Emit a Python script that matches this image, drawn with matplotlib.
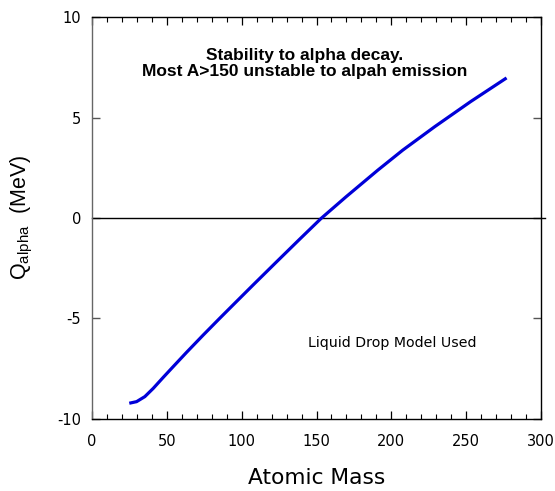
import matplotlib
matplotlib.use('Agg')
import matplotlib.pyplot as plt
from matplotlib.ticker import MultipleLocator

plt.rcParams['axes.unicode_minus'] = False
plt.rcParams['mathtext.fontset'] = 'custom'
plt.rcParams['mathtext.rm'] = 'Liberation Sans'

# values
mass = [24.9, 29.8, 35.3, 40.9, 47.6, 54.2, 63.1, 74.2, 85.3, 92.0, 107.6, 123.1,
        138.7, 153.1, 169.8, 190.9, 207.6, 229.0, 253.0, 277.0]
q_alpha = [-9.23, -9.15, -8.9, -8.49, -7.94, -7.41, -6.7, -5.84, -5.0, -4.5, -3.34, -2.2,
           -1.06, -0.02, 1.06, 2.38, 3.38, 4.55, 5.8, 6.98]

zero_x = [0, 302.5]
zero_y = [0, 0]

title_txt = 'Stability to alpha decay.\nMost A>150 unstable to alpah emission'
note_txt = 'Liquid Drop Model Used'


def plot_curve(save_path='out.png'):
    fig = plt.figure(figsize=(5.55, 4.91), dpi=100)
    ax = fig.add_axes([92 / 555, 1 - 418.7 / 491, 449 / 555, 401.4 / 491])

    ax.plot(zero_x, zero_y, color='black', lw=1.0, clip_on=False, zorder=2)
    ax.plot(mass, q_alpha, color='#0000d8', lw=2.3, solid_capstyle='butt',
            solid_joinstyle='round', zorder=3)

    ax.set_xlim(0, 300)
    ax.set_ylim(-10, 10)
    ax.xaxis.set_major_locator(MultipleLocator(50))
    ax.xaxis.set_minor_locator(MultipleLocator(10))
    ax.yaxis.set_major_locator(MultipleLocator(5))

    ax.tick_params(axis='x', which='both', direction='in', top=True, bottom=True,
                   labelsize=10.5, pad=11)
    ax.tick_params(axis='x', which='major', length=6, width=0.9)
    ax.tick_params(axis='x', which='minor', length=3.5, width=0.8)
    ax.tick_params(axis='y', which='major', direction='in', left=True, right=True,
                   length=6, width=1.0, color='#555555', labelsize=10.5, pad=8)

    for side in ['top', 'right', 'bottom']:
        ax.spines[side].set_color('black')
        ax.spines[side].set_linewidth(1.0)
    ax.spines['left'].set_color('#666666')
    ax.spines['left'].set_linewidth(1.0)

    ax.text(142, 7.7, title_txt, ha='center', va='center', fontsize=12.5,
            fontweight='bold', family='Liberation Sans', linespacing=1.1)
    ax.text(200.3, -6.23, note_txt, ha='center', va='center', fontsize=10.2)

    fig.text(316.5 / 555, 1 - 478 / 491, 'Atomic Mass', ha='center', va='center', fontsize=15.7)
    fig.text(22 / 555, 1 - 217 / 491, r'Q$_{\mathrm{alpha}}$  (MeV)', rotation=90,
             ha='center', va='center', fontsize=15.5, family='Liberation Sans')

    fig.savefig(save_path, dpi=100)
    plt.close(fig)


if __name__ == '__main__':
    plot_curve()
